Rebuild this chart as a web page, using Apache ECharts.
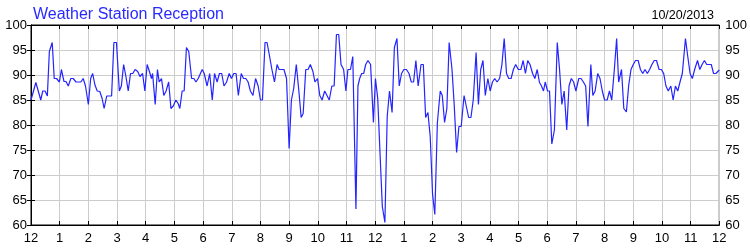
<!DOCTYPE html>
<html><head><meta charset="utf-8">
<script src="https://cdn.jsdelivr.net/npm/echarts@6/dist/echarts.min.js"></script>
<style>html,body{margin:0;padding:0;background:#fff}#c{width:750px;height:250px}</style>
</head><body><div id="c"></div>
<script>
const titleText = "Weather Station Reception";
const dateText = "10/20/2013";
const hourTicks = ["12","1","2","3","4","5","6","7","8","9","10","11","12","1","2","3","4","5","6","7","8","9","10","11","12"];
const yTicks = [60,65,70,75,80,85,90,95,100];
const hours = [
0,0.17,0.34,0.41,0.49,0.57,0.64,0.74,0.81,0.89,0.99,1.06,1.15,1.22,1.30,1.39,1.47,1.57,1.65,1.74,1.82,1.90,2.00,2.08,2.15,2.23,2.31,2.40,2.48,2.55,2.64,2.73,2.81,2.89,2.98,3.08,3.15,3.23,3.31,3.39,3.47,3.55,3.63,3.72,3.80,3.89,3.97,4.05,4.13,4.20,4.24,4.33,4.41,4.47,4.55,4.63,4.71,4.80,4.88,4.96,5.05,5.13,5.19,5.27,5.34,5.42,5.50,
5.60,5.68,5.75,5.83,5.97,6.04,6.14,6.23,6.32,6.40,6.49,6.57,6.65,6.73,6.82,6.91,6.99,7.07,7.15,7.23,7.33,7.41,7.49,7.57,7.65,7.74,7.83,7.92,8.00,8.07,8.16,8.23,8.32,8.40,8.49,8.58,8.65,8.73,8.82,8.91,9.00,9.08,9.16,9.25,9.34,9.42,9.49,9.58,9.66,9.74,9.83,9.90,9.99,10.07,10.15,10.24,10.32,10.40,10.49,10.57,10.65,10.73,10.81,10.90,10.98,11.05,11.14,11.22,11.33,11.40,11.46,11.53,11.60,11.67,11.75,
11.84,11.94,12.01,12.09,12.17,12.25,12.34,12.42,12.50,12.59,12.67,12.76,12.84,12.92,13.00,13.09,13.18,13.26,13.34,13.42,13.50,13.60,13.68,13.76,13.84,13.92,14.00,14.08,14.17,14.27,14.34,14.42,14.50,14.58,14.68,14.76,14.84,14.92,15.00,15.10,15.18,15.26,15.34,15.42,15.52,15.60,15.68,15.76,15.84,15.93,16.01,16.09,16.17,16.25,16.34,16.42,16.50,16.58,16.66,16.74,16.82,16.90,16.99,17.08,17.16,17.24,17.32,17.40,17.49,17.57,17.65,17.73,17.80,17.87,17.93,18.01,
18.08,18.16,18.25,18.35,18.43,18.51,18.59,18.68,18.76,18.84,18.92,19.00,19.10,19.18,19.26,19.34,19.42,19.52,19.59,19.67,19.76,19.84,19.92,20.00,20.09,20.17,20.25,20.34,20.42,20.49,20.59,20.67,20.76,20.84,20.92,21.00,21.08,21.17,21.25,21.33,21.41,21.49,21.57,21.65,21.73,21.81,21.90,21.98,22.06,22.14,22.22,22.31,22.39,22.47,22.55,22.63,22.71,22.82,22.90,22.98,23.06,23.14,23.24,23.32,23.40,23.48,23.56,23.64,23.72,23.80,23.88,24.00
];
const reception = [
85,88.5,85,86.8,86.8,85.8,94.7,96.5,89.3,89.3,88.6,91.1,88.7,88.7,87.8,89.3,89.3,88.6,88.6,88.6,89.3,87.8,84.1,89.3,90.3,88,86.8,86.7,85.3,83.3,85.8,85.8,85.8,96.5,96.5,86.8,87.8,92.1,89.7,86.8,90.3,90.3,91.1,90.7,89.7,90.3,86.8,92.1,90.7,89.3,90.3,84.1,91.1,88.6,89.3,85.9,86.8,88.6,83.3,83.8,85,84.3,83.3,86.8,86.8,95.5,94.7,
89.3,89.3,88.6,89.3,91.1,90.3,87.8,90.3,85,90.3,88.6,90.3,90.3,87.8,88.6,90.3,89.3,90.3,90.3,85.9,90.3,89.3,89.3,88.6,86.8,85.9,89.3,87.8,85,85,96.5,96.5,93.7,91.1,88.6,92.1,91.1,91.1,91.1,89.3,75.3,85,87.3,92.1,86.8,81.5,82.3,91.1,91.1,92.1,90.7,88.6,89.3,85.9,85,86.8,85.9,85,87.8,87.8,98.1,98.1,92.1,91.1,86.8,91.1,91.1,93.7,63.2,87.8,89.3,90.3,90.3,92.1,92.9,
92.1,80.5,89.3,85.3,74.3,63.7,60.5,81.7,86.8,82.5,95.5,97.3,87.8,90.3,91.1,91.1,90.3,88.6,88.6,92.9,87.8,92.1,92.1,81.5,82.5,77.7,66.3,62.1,80.5,86.8,85.9,80.5,83.3,96.5,91.1,83.7,74.5,79.7,79.7,85.9,83.7,81.5,81.5,85,94.5,84.1,91.1,92.9,85.9,89.3,86.8,88.6,89.3,88.6,89.3,92.1,97.3,90.3,89.3,89.3,91.1,92.1,91.1,91.1,92.9,90.3,92.9,92.1,90.3,89.3,91.1,88.5,87.8,86.8,88.6,86.8,
86.8,76.2,79,96.5,91.1,84.1,86.8,79,87.8,89.3,88.6,86.8,89.3,89.3,88.6,87.8,79.7,92.1,85.9,86.8,90.3,89.3,86.8,85,85,86.8,85,91.1,97.3,88.6,91.1,83.3,82.6,87.9,91.1,92.1,92.9,92.9,91.1,90.3,91.1,90.3,91.1,92.1,92.9,92.9,91.1,91.1,90.3,87.8,86.8,87.8,85,87.8,86.8,88.6,90.3,97.3,93.7,90.3,89.3,91.1,92.9,91.1,92.1,92.9,92.1,92.1,92.1,90.3,90.3,91
];
const seriesData = hours.map((h, i) => [h, reception[i]]);
const font = "'Liberation Sans', Arial, sans-serif";
const chart = echarts.init(document.getElementById('c'), null, {renderer: 'canvas'});
const xLab = {fontFamily: font, fontSize: 13, color: '#000', margin: 7, formatter: v => hourTicks[Math.round(v)]};
chart.setOption({
  animation: false,
  title: [
    {text: titleText, left: 28, top: 2, textStyle: {fontFamily: font, fontSize: 16, fontWeight: 'normal', color: '#2a2aff'}},
    {text: dateText, right: 31, top: 4, textStyle: {fontFamily: font, fontSize: 12.5, fontWeight: 'normal', color: '#000'}}
  ],
  grid: {left: 31, right: 30, top: 25, bottom: 25, show: true, borderColor: '#000', borderWidth: 1, backgroundColor: '#fff'},
  xAxis: [
    {type: 'value', min: 0, max: 24, interval: 1, position: 'bottom',
     axisLine: {show: true, lineStyle: {color: '#000'}}, axisTick: {show: true, inside: true, length: 4, lineStyle: {color: '#000'}},
     axisLabel: xLab, splitLine: {show: true, lineStyle: {color: '#cccccc'}}},
    {type: 'value', min: 0, max: 24, interval: 1, position: 'top',
     axisLine: {show: true, lineStyle: {color: '#000'}}, axisTick: {show: true, inside: true, length: 4, lineStyle: {color: '#000'}},
     axisLabel: {show: false}, splitLine: {show: false}}
  ],
  yAxis: [
    {type: 'value', min: yTicks[0], max: yTicks[yTicks.length-1], interval: 5, position: 'left',
     axisLine: {show: true, lineStyle: {color: '#000'}}, axisTick: {show: true, inside: true, length: 4, lineStyle: {color: '#000'}},
     axisLabel: {fontFamily: font, fontSize: 13, color: '#000', margin: 4},
     splitLine: {show: true, lineStyle: {color: '#cccccc'}}},
    {type: 'value', min: yTicks[0], max: yTicks[yTicks.length-1], interval: 5, position: 'right',
     axisLine: {show: true, lineStyle: {color: '#000'}}, axisTick: {show: true, inside: true, length: 4, lineStyle: {color: '#000'}},
     axisLabel: {fontFamily: font, fontSize: 13, color: '#000', margin: 6},
     splitLine: {show: false}}
  ],
  series: [{
    type: 'line', data: seriesData, xAxisIndex: 0, yAxisIndex: 0,
    showSymbol: false, symbol: 'none',
    lineStyle: {color: '#2424ff', width: 1.2}
  }]
});
</script></body></html>
